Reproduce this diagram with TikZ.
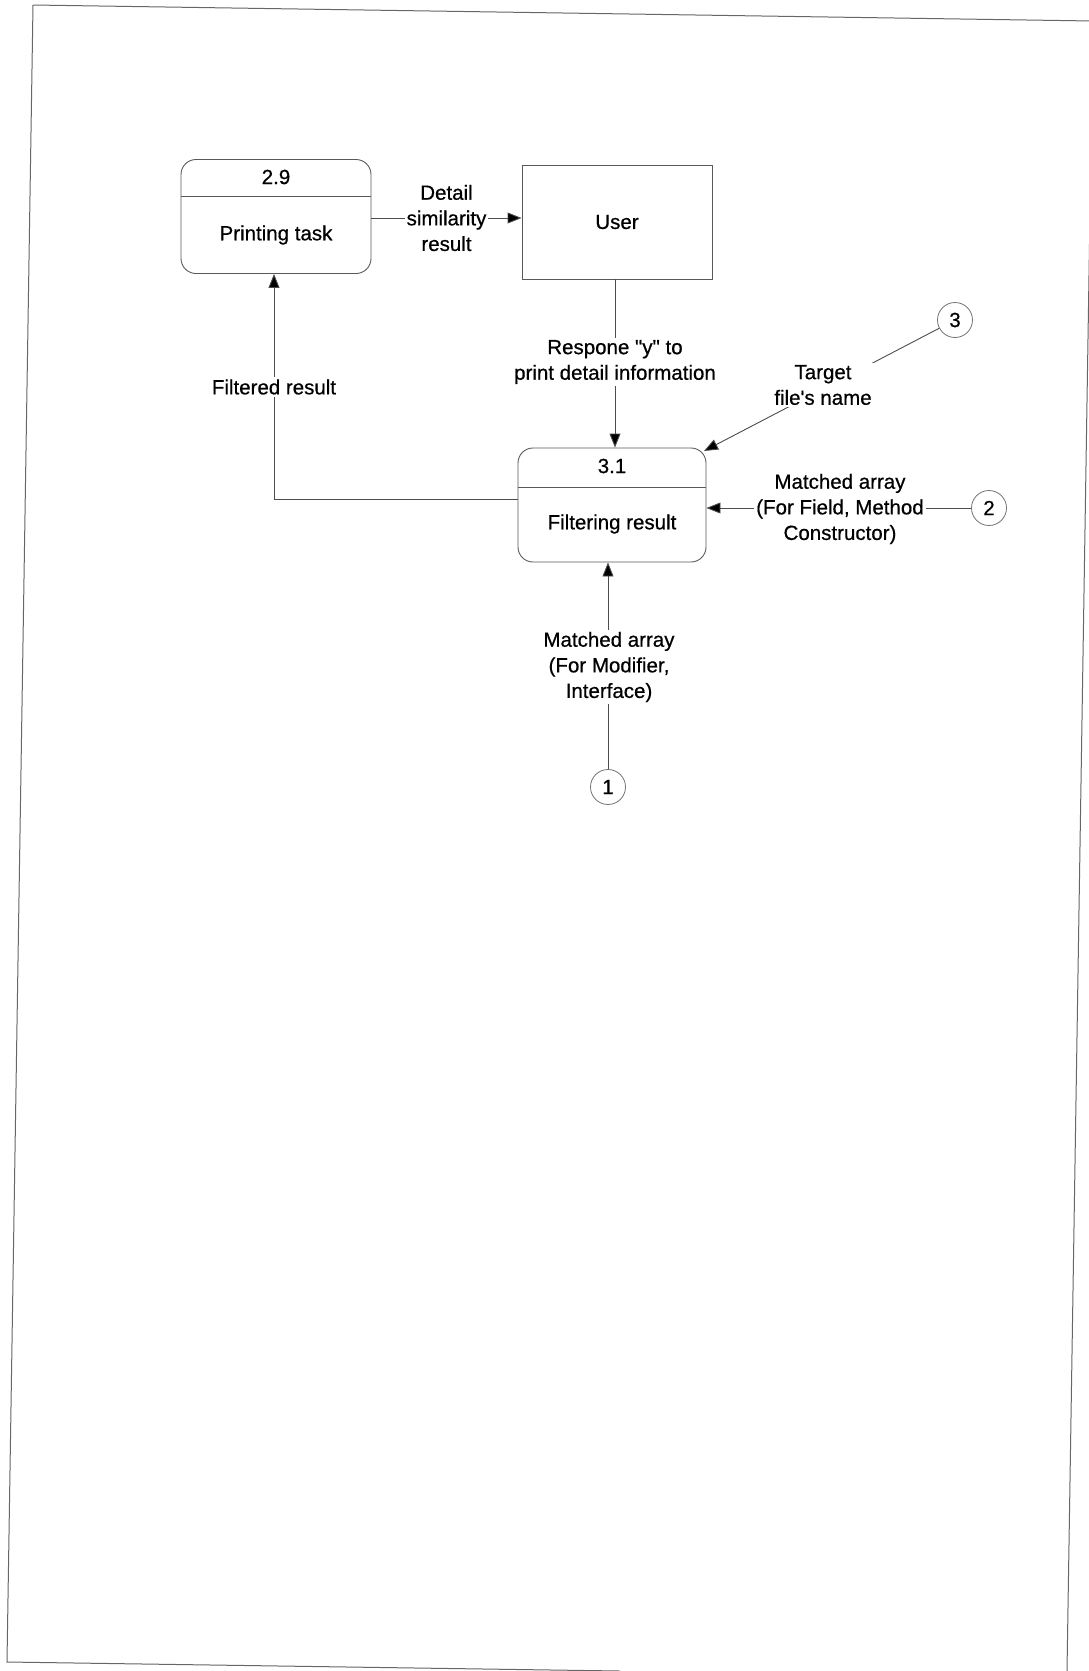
\documentclass[tikz,border=0pt]{standalone}
\usepackage{fontspec}
\setmainfont{Liberation Sans}[FakeBold=0.6, Ligatures=TeXOff]
\usetikzlibrary{arrows.meta}
\begin{document}
\begin{tikzpicture}[x=1pt,y=-1pt,
  every node/.style={font=\fontsize{20.5}{25.6}\selectfont, text=black},
  proc/.style={draw=black!65, line width=0.9pt, rounded corners=15pt,
    minimum width=#1, minimum height=114pt, inner sep=0pt},
  ent/.style={draw=black!65, line width=0.9pt, minimum width=190pt,
    minimum height=114pt, inner sep=0pt},
  refc/.style={draw=black!55, line width=0.8pt, circle, minimum size=35pt,
    inner sep=0pt},
  lbl/.style={fill=white, align=center, inner sep=2pt},
  flow/.style={draw=black!70, line width=0.9pt,
    -{Triangle[length=14pt,width=11pt,fill=black]}},
  frame/.style={draw=black!60, line width=1pt}]
\useasboundingbox (0,0) rectangle (1089,1671);
\begin{scope}
\clip (0,0) rectangle (1089,1671);
% page border
\draw[frame] (33,5) -- (1093,21);
\draw[frame] (33,5) -- (7,1662) -- (620,1671);
\draw[frame] (1093,21) -- (1067,1671);
\end{scope}

% process 2.9
\node[proc=190pt] (p29) at (276,216.5) {};
\draw[draw=black!65, line width=0.9pt] (p29.west |- 0,196) -- (p29.east |- 0,196);
\node (p29id) at (276,177) {2.9};
\node (p29name) at (276,235) {Printing task};

% external entity
\node[ent] (user) at (617,222) {User};

% process 3.1
\node[proc=188pt] (f31) at (612,505) {};
\draw[draw=black!65, line width=0.9pt] (f31.west |- 0,487) -- (f31.east |- 0,487);
\node (f31id) at (612,466) {3.1};
\node (f31name) at (612,524) {Filtering result};

% off-page references
\node[refc] (c3) at (955,320) {3};
\node[refc] (c2) at (989,508) {2};
\node[refc] (c1) at (608,787) {1};

% data flows
\draw[flow] (p29.east |- 0,218) -- (user.west |- 0,218);
\node[lbl] (ldetail) at (446.5,218) {Detail\\similarity\\result};

\draw[flow] (615,0 |- user.south) -- (615,0 |- f31.north);
\node[lbl] (lresp) at (615,362) {Respone "y" to\\print detail information};

\coordinate (fbend) at (274,499);
\draw[flow] (f31.west |- fbend) -- (fbend) -- (fbend |- p29.south);
\node[lbl] (lfilt) at (274,387) {Filtered result};

\coordinate (f31ne) at (704,451);
\draw[flow] (c3) -- (f31ne);
\node[lbl] (ltarget) at (823,385) {Target\\file's name};

\draw[flow] (c2) -- (f31.east |- c2);
\node[lbl] (lfield) at (840,509) {Matched array\\(For Field, Method\\Constructor)};

\draw[flow] (c1) -- (c1 |- f31.south);
\node[lbl] (lmod) at (609,667) {Matched array\\(For Modifier,\\Interface)};
\end{tikzpicture}
\end{document}
